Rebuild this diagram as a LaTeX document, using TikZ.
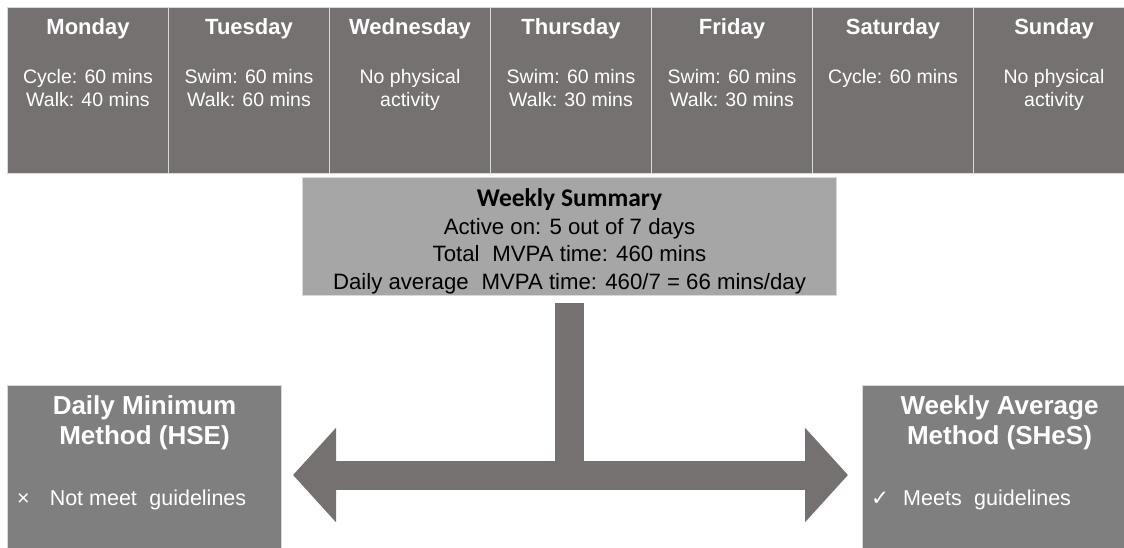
\documentclass[tikz,border=0pt]{standalone}
\usepackage{fontspec}
\setmainfont{Liberation Sans}
\newfontfamily\calibrifont{Carlito}
\newfontfamily\symbolfont{DejaVu Sans}
\usetikzlibrary{positioning,arrows.meta}

\definecolor{daygray}{HTML}{767171}
\definecolor{sumgray}{HTML}{A6A6A6}
\definecolor{methgray}{HTML}{7F7F7F}
\definecolor{edgegray}{HTML}{D9D9D9}

\begin{document}
\begin{tikzpicture}[x=1pt, y=-1pt,
    daybox/.style={draw=edgegray, line width=1pt, fill=daygray, anchor=north west, inner sep=0pt, minimum width=161pt, minimum height=166pt},
    daytitle/.style={inner sep=0pt, text=white, font=\fontsize{22}{26}\selectfont\bfseries},
    daytext/.style={inner sep=0pt, text=white, align=center, font=\fontsize{19.5}{23}\selectfont},
    sumbox/.style={draw=edgegray, line width=1pt, fill=sumgray, anchor=north west, inner sep=0pt, minimum width=534pt, minimum height=118pt, align=center, font=\fontsize{22.2}{27.5}\selectfont},
    methbox/.style={draw=edgegray, line width=1pt, fill=methgray, anchor=north west, inner sep=0pt, minimum width=274pt, minimum height=175pt},
    methtitle/.style={inner sep=0pt, text=white, align=center, font=\fontsize{26}{30}\selectfont\bfseries},
    methtext/.style={inner sep=0pt, text=white, anchor=north west, font=\fontsize{21.5}{25}\selectfont},
    summarystem/.style={draw=daygray, line width=29pt},
    bigarrow/.style={draw=daygray, line width=29pt, -{Triangle[length=43pt, width=92pt]}}]
    \useasboundingbox (0,0) rectangle (1124,547);
    \clip (0,0) rectangle (1124,547);

    % days of the week
    \foreach \day/\actA/\actB [count=\i from 0] in {Monday/Cycle: 60 mins/Walk: 40 mins, Tuesday/Swim: 60 mins/Walk: 60 mins, Wednesday/No physical/activity, Thursday/Swim: 60 mins/Walk: 30 mins, Friday/Swim: 60 mins/Walk: 30 mins, Saturday/Cycle: 60 mins/{}, Sunday/No physical/activity} {
        \node[daybox] (d\i) at (7+161*\i, 7) {};
        \node[daytitle, below=11pt of d\i.north] {\day};
        \node[daytext, below=62pt of d\i.north] {\actA\\\actB};
    }

    \node[sumbox] (summary) at (302,177) {{\calibrifont\bfseries\fontsize{25.5}{27.5}\selectfont\rule{0pt}{28pt}Weekly Summary}\\Active on: 5 out of 7 days\\Total\hspace{0.3em} MVPA time: 460 mins\\Daily average\hspace{0.3em} MVPA time: 460/7 = 66 mins/day};

    \node[methbox] (hmin) at (7,385) {};
    \node[methtitle, below=10pt of hmin.north] {Daily Minimum\\Method (HSE)};
    \node[methtext] at ([xshift=10pt, yshift=-105pt]hmin.north west) {×\hspace{20pt}Not meet\hspace{0.3em} guidelines};

    \node[methbox] (havg) at (862,385) {};
    \node[methtitle, below=10pt of havg.north] {Weekly Average\\Method (SHeS)};
    \node[methtext] at ([xshift=9pt, yshift=-105pt]havg.north west) {{\symbolfont ✓}\hspace{14pt}Meets\hspace{0.3em} guidelines};

    \coordinate (hub) at ([yshift=-179pt]summary.south);
    \draw[summarystem] ([yshift=-7pt]summary.south) -- (hub);
    \draw[bigarrow] (hub) -- ([xshift=11pt]hmin.east |- hub);
    \draw[bigarrow] (hub) -- ([xshift=-14pt]havg.west |- hub);
\end{tikzpicture}
\end{document}
